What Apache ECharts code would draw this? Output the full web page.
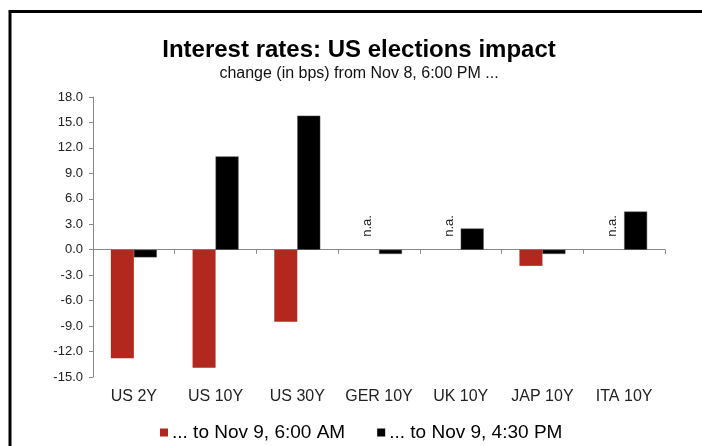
<!DOCTYPE html>
<html>
<head>
<meta charset="utf-8">
<script src="https://cdn.jsdelivr.net/npm/echarts@6/dist/echarts.min.js"></script>
<style>
html, body { margin: 0; padding: 0; background: #fff; }
#main { width: 702px; height: 446px; }
</style>
</head>
<body>
<div id="main"></div>
<script>
var categories = ['US 2Y', 'US 10Y', 'US 30Y', 'GER 10Y', 'UK 10Y', 'JAP 10Y', 'ITA 10Y'];
var morning = [-12.8, -13.9, -8.5, null, null, -1.9, null];   // ... to Nov 9, 6:00 AM
var afternoon = [-0.9, 11.0, 15.8, -0.5, 2.5, -0.5, 4.5];   // ... to Nov 9, 4:30 PM
var seriesNames = ['... to Nov 9, 6:00 AM', '... to Nov 9, 4:30 PM'];

var font = 'Liberation Sans';
var chart = echarts.init(document.getElementById('main'));

// n.a. values get a zero bar carrying a rotated label
var morningData = morning.map(function (v) {
  if (v === null) {
    return {
      value: 0,
      label: {
        show: true, formatter: 'n.a.', position: 'top', distance: 13,
        rotate: 90, align: 'left', verticalAlign: 'middle',
        fontSize: 13, color: '#222', fontFamily: font
      }
    };
  }
  return v;
});

var option = {
  backgroundColor: '#fff',
  animation: false,
  title: {
    text: 'Interest rates: US elections impact',
    subtext: 'change (in bps) from Nov 8, 6:00 PM ...',
    left: 354, textAlign: 'center', top: 33,
    itemGap: 4,
    textStyle: { fontFamily: font, fontWeight: 'bold', fontSize: 24, color: '#000' },
    subtextStyle: { fontFamily: font, fontSize: 16, color: '#111' }
  },
  legend: {
    data: seriesNames,
    left: 155, top: 418,
    icon: 'rect', itemWidth: 8, itemHeight: 8, itemGap: 32,
    itemStyle: { borderWidth: 0 },
    textStyle: { fontFamily: font, fontSize: 19, color: '#000', padding: [0, 0, 0, -1] }
  },
  grid: { left: 93, right: 37, top: 97, bottom: 69 },
  xAxis: [{
    type: 'category',
    data: categories,
    axisLine: { onZero: true, lineStyle: { color: '#888', width: 1 } },
    axisTick: { show: true, length: 4, lineStyle: { color: '#888' } },
    axisLabel: { show: false }
  }, {
    type: 'category',
    data: categories,
    position: 'bottom',
    axisLine: { show: false, onZero: false },
    axisTick: { show: false },
    axisLabel: { interval: 0, fontFamily: font, fontSize: 16, color: '#222', margin: 12 }
  }],
  yAxis: {
    type: 'value',
    min: -15, max: 18, interval: 3,
    splitLine: { show: false },
    axisLine: { show: true, lineStyle: { color: '#888' } },
    axisTick: { show: true, length: 4, lineStyle: { color: '#888' } },
    axisLabel: {
      fontFamily: font, fontSize: 13, color: '#222', margin: 10,
      formatter: function (v) { return v.toFixed(1); }
    }
  },
  series: [{
    name: seriesNames[0],
    type: 'bar',
    data: morningData,
    barWidth: 23,
    barGap: '0%',
    itemStyle: { color: '#b3281e' }
  }, {
    name: seriesNames[1],
    type: 'bar',
    data: afternoon,
    barWidth: 23,
    itemStyle: { color: '#000', borderColor: '#555', borderWidth: 0.5 }
  }],
  graphic: [{
    type: 'polyline',
    shape: { points: [[10, 446], [10, 11.5], [702, 11.5]] },
    style: { stroke: '#000', lineWidth: 3, fill: null },
    silent: true
  }]
};

chart.setOption(option);
</script>
</body>
</html>
